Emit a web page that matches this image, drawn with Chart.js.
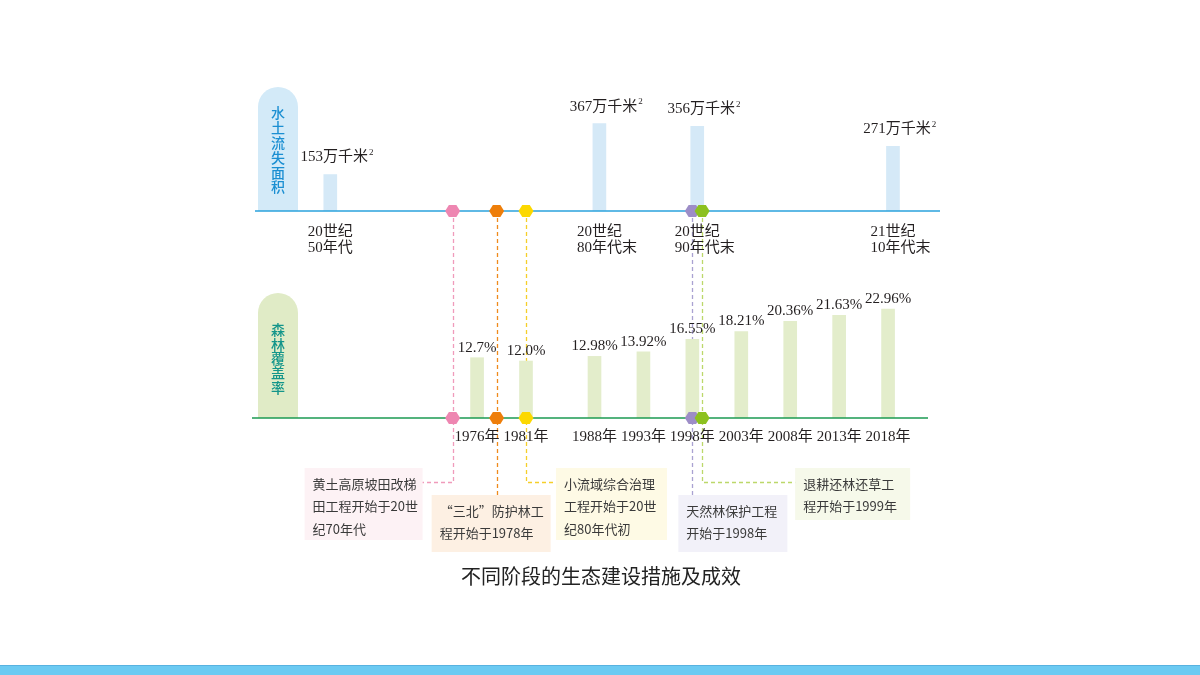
<!DOCTYPE html>
<html>
<head>
<meta charset="utf-8">
<script src="https://cdn.jsdelivr.net/npm/chart.js@4.4.1/dist/chart.umd.min.js"></script>
<style>
  html, body { margin: 0; padding: 0; background: #fff; }
  #wrap { position: relative; width: 1200px; height: 675px; overflow: hidden; }
  .strip { position: absolute; left: 0; top: 665px; width: 1200px; height: 9px; background: #6bcaf2; border-top: 1px solid #58b2e0; }
</style>
</head>
<body>
<div id="wrap">
  <canvas id="myChart" width="1200" height="675"></canvas>
  <div class="strip"></div>
</div>
<script>
// 水土流失面积 (万千米²), placed on the year axis where the picture puts them
const erosionLabels = [['20世纪', '50年代'], ['20世纪', '80年代末'], ['20世纪', '90年代末'], ['21世纪', '10年代末']];
const erosionYears = [1961, 1988.5, 1998.5, 2018.5];
const erosionArea = [153, 367, 356, 271];

// 森林覆盖率 (%)
const forestYears = [1976, 1981, 1988, 1993, 1998, 2003, 2008, 2013, 2018];
const forestCover = [12.7, 12.0, 12.98, 13.92, 16.55, 18.21, 20.36, 21.63, 22.96];
const forestText = ['12.7%', '12.0%', '12.98%', '13.92%', '16.55%', '18.21%', '20.36%', '21.63%', '22.96%'];

// 生态建设工程
const projectYears = [1973.5, 1978, 1981, 1998, 1999];
const projectText = [
  ['黄土高原坡田改梯', '田工程开始于20世', '纪70年代'],
  ['“三北”防护林工', '程开始于1978年'],
  ['小流域综合治理', '工程开始于20世', '纪80年代初'],
  ['天然林保护工程', '开始于1998年'],
  ['退耕还林还草工', '程开始于1999年']
];

const serif = '"Liberation Serif", "Noto Sans CJK SC", serif';
const sans = '"Noto Sans CJK SC", "Noto Sans", sans-serif';

// look of each project callout (colour, box placement relative to its marker)
const projStyle = [
  { dot: '#ee86b1', dash: '#f09bbb', fill: '#fdf2f5', dx: -148, top: 468, w: 118, h: 72, joinY: 482 },
  { dot: '#ee7e0a', dash: '#ef8a1c', fill: '#fdf0e3', dx: -65, top: 495, w: 119, h: 57 },
  { dot: '#fcd800', dash: '#f5cf2a', fill: '#fefae5', dx: 30, top: 468, w: 111, h: 72, joinY: 482 },
  { dot: '#9d8dc7', dash: '#aaa2d2', fill: '#f2f1f9', dx: -14, top: 495, w: 109, h: 57 },
  { dot: '#8cc11f', dash: '#bcd86a', fill: '#f6f9ea', dx: 93, top: 468, w: 115, h: 52, joinY: 482 }
];

function hexagon(ctx, cx, cy, r, color) {
  ctx.beginPath();
  for (let k = 0; k < 6; k++) {
    const a = Math.PI / 3 * k;
    const px = cx + r * Math.cos(a), py = cy + r * 0.92 * Math.sin(a);
    if (k === 0) ctx.moveTo(px, py); else ctx.lineTo(px, py);
  }
  ctx.closePath();
  ctx.fillStyle = color;
  ctx.fill();
}

function pill(ctx, x, y, w, h, fill, color, text, top, step) {
  ctx.beginPath();
  ctx.roundRect(x, y, w, h, [w / 2, w / 2, 0, 0]);
  ctx.fillStyle = fill;
  ctx.fill();
  ctx.fillStyle = color;
  ctx.font = '500 14px ' + sans;
  ctx.textAlign = 'center';
  ctx.textBaseline = 'middle';
  [...text].forEach((ch, i) => ctx.fillText(ch, x + w / 2, top + i * step));
}

const decor = {
  id: 'decor',
  beforeDatasetsDraw(chart) {
    const ctx = chart.ctx;
    const xs = chart.scales.x, yT = chart.scales.yTop, yB = chart.scales.yBot;
    const top0 = yT.getPixelForValue(0), bot0 = yB.getPixelForValue(0);
    ctx.save();
    pill(ctx, 258, 87, 40, top0 - 87, '#d3eaf8', '#1b8fd2', '水土流失面积', 113, 14.8);
    pill(ctx, 258, 293, 40, bot0 - 293, '#e0ebc6', '#13958a', '森林覆盖率', 330, 14.3);

    // dashed connectors and callout boxes
    projectYears.forEach((yr, i) => {
      const st = projStyle[i];
      const mx = xs.getPixelForValue(yr);
      const bx = mx + st.dx;
      ctx.fillStyle = st.fill;
      ctx.fillRect(bx, st.top, st.w, st.h);
      ctx.strokeStyle = st.dash;
      ctx.lineWidth = 1.3;
      ctx.setLineDash([4, 3]);
      ctx.beginPath();
      ctx.moveTo(Math.round(mx) + 0.5, top0);
      if (st.joinY) {
        ctx.lineTo(Math.round(mx) + 0.5, st.joinY + 0.5);
        ctx.lineTo(st.dx < 0 ? bx + st.w : bx, st.joinY + 0.5);
      } else {
        ctx.lineTo(Math.round(mx) + 0.5, st.top);
      }
      ctx.stroke();
      ctx.setLineDash([]);
      ctx.fillStyle = '#3a3a3a';
      ctx.font = '13px ' + sans;
      ctx.textAlign = 'left';
      ctx.textBaseline = 'middle';
      projectText[i].forEach((line, j) => ctx.fillText(line, bx + 8, st.top + 16 + j * 22.5));
    });
    ctx.restore();
  },
  afterDatasetsDraw(chart) {
    const ctx = chart.ctx;
    const xs = chart.scales.x, yT = chart.scales.yTop, yB = chart.scales.yBot;
    const top0 = yT.getPixelForValue(0), bot0 = yB.getPixelForValue(0);
    ctx.save();
    // axis lines
    ctx.lineWidth = 1.5;
    ctx.strokeStyle = '#2aa2dc';
    ctx.beginPath(); ctx.moveTo(255, top0); ctx.lineTo(940, top0); ctx.stroke();
    ctx.strokeStyle = '#1b9a52';
    ctx.beginPath(); ctx.moveTo(252, bot0); ctx.lineTo(928, bot0); ctx.stroke();

    // markers on both lines
    projectYears.forEach((yr, i) => {
      const mx = xs.getPixelForValue(yr);
      hexagon(ctx, mx, top0, 7.5, projStyle[i].dot);
      hexagon(ctx, mx, bot0, 7.5, projStyle[i].dot);
    });

    ctx.fillStyle = '#231f20';
    ctx.textBaseline = 'middle';
    // erosion values and era labels
    erosionYears.forEach((yr, i) => {
      const bx = xs.getPixelForValue(yr);
      const by = yT.getPixelForValue(erosionArea[i]);
      ctx.font = '15px ' + serif;
      const main = erosionArea[i] + '万千米';
      const w = ctx.measureText(main).width;
      const lx = bx - w / 2 + 4;
      ctx.textAlign = 'left';
      ctx.fillText(main, lx, by - 17);
      ctx.font = '9px ' + serif;
      ctx.fillText('2', lx + w + 1, by - 22);
      ctx.font = '15px ' + serif;
      const w1 = ctx.measureText(erosionLabels[i][0]).width;
      ctx.fillText(erosionLabels[i][0], bx - w1 / 2, top0 + 21);
      ctx.fillText(erosionLabels[i][1], bx - w1 / 2, top0 + 37);
    });
    // forest values and years
    ctx.textAlign = 'center';
    ctx.font = '15px ' + serif;
    forestYears.forEach((yr, i) => {
      const bx = xs.getPixelForValue(yr);
      const by = yB.getPixelForValue(forestCover[i]);
      ctx.fillText(forestText[i], bx, by - 10);
      ctx.fillText(yr + '年', bx, bot0 + 19);
    });

    // caption
    ctx.font = '20px ' + sans;
    ctx.fillStyle = '#222';
    ctx.fillText('不同阶段的生态建设措施及成效', 601, 576);
    ctx.restore();
  }
};

const ctx = document.getElementById('myChart');

new Chart(ctx, {
  type: 'bar',
  data: {
    datasets: [
      {
        label: '水土流失面积',
        data: erosionYears.map((x, i) => ({ x: x, y: erosionArea[i] })),
        yAxisID: 'yTop',
        backgroundColor: '#d5e9f7',
        barThickness: 13,
        grouped: false
      }, {
        label: '森林覆盖率',
        data: forestYears.map((x, i) => ({ x: x, y: forestCover[i] })),
        yAxisID: 'yBot',
        backgroundColor: '#e3edcb',
        barThickness: 13,
        grouped: false
      }
    ]
  },
  options: {
    responsive: false,
    animation: false,
    layout: { padding: { left: 252, right: 263, top: 80, bottom: 257 } },
    plugins: { legend: { display: false }, tooltip: { enabled: false } },
    scales: {
      x: { type: 'linear', min: 1953, max: 2023, offset: false, display: false },
      yTop: { type: 'linear', position: 'right', stack: 'rows', stackWeight: 131, min: 0, max: 550, display: false },
      yBot: { type: 'linear', position: 'right', stack: 'rows', stackWeight: 207, min: 0, max: 43.6, display: false }
    }
  },
  plugins: [decor]
});
</script>
</body>
</html>
